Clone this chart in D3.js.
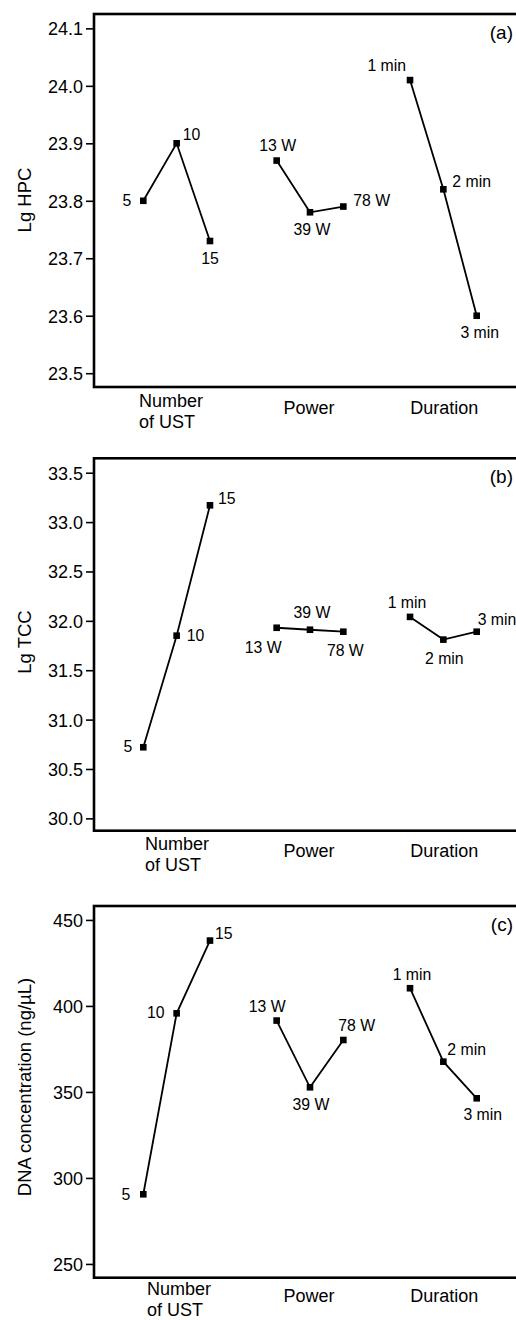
<!DOCTYPE html>
<html>
<head>
<meta charset="utf-8">
<script src="https://cdnjs.cloudflare.com/ajax/libs/d3/7.8.5/d3.min.js"></script>
<style>
  body { margin: 0; background: #fff; }
  svg { display: block; font-family: "Liberation Sans", Arial, sans-serif; }
  .tick text { font-size: 18px; fill: #000; }
  .tick line { stroke: #000; stroke-width: 1.6px; }
  .pt-label { font-size: 15.8px; fill: #000; }
  .x-label { font-size: 18px; fill: #000; }
  .y-title { font-size: 18.5px; fill: #000; }
  .panel-tag { font-size: 19px; fill: #000; }
</style>
</head>
<body>
<div id="container"></div>
<script>
// data
var factors = ["Number of UST", "Power", "Duration"];
var levels = ["5", "10", "15", "13 W", "39 W", "78 W", "1 min", "2 min", "3 min"];
var hpcValues = [23.80, 23.90, 23.73, 23.87, 23.78, 23.79, 24.01, 23.82, 23.60];
var tccValues = [30.72, 31.85, 33.17, 31.93, 31.91, 31.89, 32.04, 31.81, 31.89];
var dnaValues = [290.5, 395.7, 438.0, 391.5, 352.7, 380.2, 410.3, 367.6, 346.3];
var hpcTicks = [23.5, 23.6, 23.7, 23.8, 23.9, 24.0, 24.1];
var tccTicks = [30.0, 30.5, 31.0, 31.5, 32.0, 32.5, 33.0, 33.5];
var dnaTicks = [250, 300, 350, 400, 450];

var w = 516, h = 1320;

// label placement for each point: [anchor, dx, dy]
var placeA = [["end",-12,5],["start",6,-3],["middle",0,23],["middle",1,-10],["middle",2,23],["start",10,-1],["end",-4,-9],["start",9,-2],["middle",3,22]];
var placeB = [["end",-11,5],["start",10,5],["start",8,-1],["end",5,25],["middle",2,-12],["middle",2,24],["middle",-3,-9],["middle",1,24],["start",1,-7]];
var placeC = [["end",-13,6],["end",-12,5],["start",5,-2],["end",9,-9],["middle",1,23],["start",-5,-9],["middle",2,-8],["start",4,-7],["middle",6,22]];

var panels = [
  {values: hpcValues, ticks: hpcTicks, fmt: d3.format(".1f"), title: "Lg HPC", tag: "(a)",
   top: 14, bottom: 387, dom: [23.476, 24.125], place: placeA, numX: 139, numY: 407, titleY: 200},
  {values: tccValues, ticks: tccTicks, fmt: d3.format(".1f"), title: "Lg TCC", tag: "(b)",
   top: 458.3, bottom: 830.7, dom: [29.875, 33.646], place: placeB, numX: 145, numY: 850, titleY: 642},
  {values: dnaValues, ticks: dnaTicks, fmt: d3.format("d"), title: "DNA concentration (ng/\u00b5L)", tag: "(c)",
   top: 906, bottom: 1277.7, dom: [242.0, 458.1], place: placeC, numX: 147, numY: 1295, titleY: 1087}
];

var svg = d3.select("#container").append("svg")
  .attr("width", w)
  .attr("height", h);

// slots 0..10, one empty slot between factors
var x = d3.scaleLinear().domain([0, 10]).range([143.3, 476.7]);
function slot(i) { return Math.floor(i / 3) * 4 + (i % 3); }

var frameLeft = 94, frameRight = 526;

panels.forEach(function(p) {
  var y = d3.scaleLinear().domain(p.dom).range([p.bottom, p.top]);
  var g = svg.append("g");

  // frame
  g.append("rect")
    .attr("x", frameLeft).attr("y", p.top)
    .attr("width", frameRight - frameLeft).attr("height", p.bottom - p.top)
    .attr("fill", "none").attr("stroke", "#000").attr("stroke-width", 2.6);

  // y axis
  var ax = g.append("g")
    .attr("transform", "translate(" + frameLeft + ",0)")
    .call(d3.axisLeft(y).tickValues(p.ticks).tickFormat(p.fmt).tickSize(8).tickPadding(3));
  ax.select(".domain").remove();
  ax.selectAll("text").attr("font-family", null).attr("font-size", null).attr("dy", "0.36em");

  g.append("text")
    .attr("class", "y-title")
    .attr("transform", "translate(31," + p.titleY + ") rotate(-90)")
    .attr("text-anchor", "middle")
    .text(p.title);

  g.append("text")
    .attr("class", "panel-tag")
    .attr("x", 513).attr("y", p.top + 25)
    .attr("text-anchor", "end")
    .text(p.tag);

  // x labels
  var num = g.append("text").attr("class", "x-label").attr("x", p.numX).attr("y", p.numY);
  num.append("tspan").attr("x", p.numX).text("Number");
  num.append("tspan").attr("x", p.numX).attr("dy", 21).text("of UST");
  g.append("text").attr("class", "x-label")
    .attr("x", x(5) - 1).attr("y", p.numY + 7)
    .attr("text-anchor", "middle").text(factors[1]);
  g.append("text").attr("class", "x-label")
    .attr("x", x(9) + 1).attr("y", p.numY + 7)
    .attr("text-anchor", "middle").text(factors[2]);

  // lines per factor
  var line = d3.line()
    .x(function(d) { return x(slot(d.i)); })
    .y(function(d) { return y(d.v); });
  var pts = p.values.map(function(v, i) { return {v: v, i: i}; });
  [0, 1, 2].forEach(function(f) {
    g.append("path")
      .datum(pts.slice(f * 3, f * 3 + 3))
      .attr("d", line)
      .attr("fill", "none")
      .attr("stroke", "#000")
      .attr("stroke-width", 1.8);
  });

  var s = 6.6;
  g.selectAll("rect.marker")
    .data(pts)
    .enter()
    .append("rect")
    .attr("class", "marker")
    .attr("x", function(d) { return x(slot(d.i)) - s / 2; })
    .attr("y", function(d) { return y(d.v) - s / 2; })
    .attr("width", s).attr("height", s)
    .attr("fill", "#000");

  g.selectAll("text.pt-label")
    .data(pts)
    .enter()
    .append("text")
    .attr("class", "pt-label")
    .attr("text-anchor", function(d) { return p.place[d.i][0]; })
    .attr("x", function(d) { return x(slot(d.i)) + p.place[d.i][1]; })
    .attr("y", function(d) { return y(d.v) + p.place[d.i][2]; })
    .text(function(d) { return levels[d.i]; });
});
</script>
</body>
</html>
